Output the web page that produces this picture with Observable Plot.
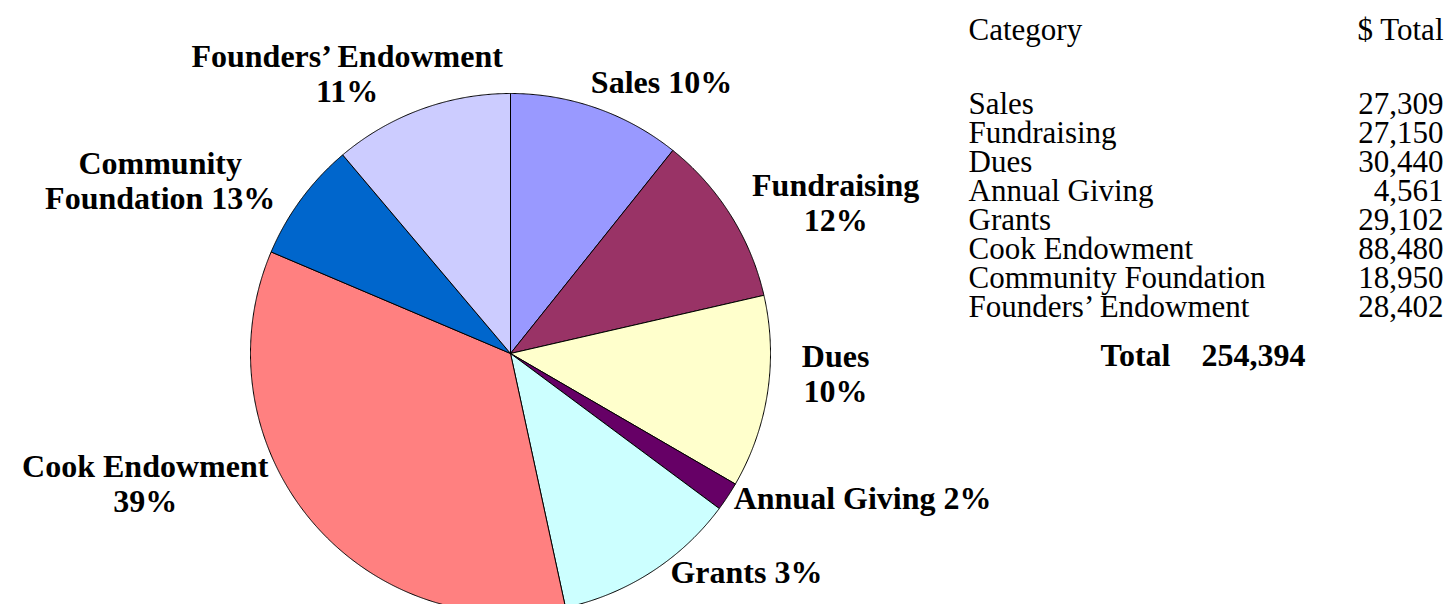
<!DOCTYPE html>
<html>
<head>
<meta charset="utf-8">
<script src="https://cdn.jsdelivr.net/npm/d3@7"></script>
<script src="https://cdn.jsdelivr.net/npm/@observablehq/plot@0.6"></script>
<style>
  html, body { margin: 0; padding: 0; background: #ffffff; }
  #chart svg { display: block; }
</style>
</head>
<body>
<div id="chart"></div>
<script>
// ---------- data ----------
const categories = ["Sales", "Fundraising", "Dues", "Annual Giving", "Grants", "Cook Endowment", "Community Foundation", "Founders’ Endowment"];
const totals = [27309, 27150, 30440, 4561, 29102, 88480, 18950, 28402];
const pieLabels = [
  ["Sales 10%"],
  ["Fundraising", "12%"],
  ["Dues", "10%"],
  ["Annual Giving 2%"],
  ["Grants 3%"],
  ["Cook Endowment", "39%"],
  ["Community", "Foundation 13%"],
  ["Founders’ Endowment", "11%"]
];
const sliceColors = ["#9999FF", "#993366", "#FFFFCC", "#660066", "#CCFFFF", "#FF8080", "#0066CC", "#CCCCFF"];
const tableHeaders = ["Category", "$ Total"];
const totalLabel = "Total";

// ---------- layout ----------
const W = 1450, H = 604;
const CX = 510, CY = 353, R = 260;
const FONT = "'Liberation Serif', 'Times New Roman', Times, serif";
// label offset from the slice's mid-angle rim point
const labelLayout = [
  {dx: 65, dy: -26, anchor: "middle"},
  {dx: 105, dy: -13, anchor: "middle"},
  {dx: 68, dy: -19, anchor: "middle"},
  {dx: 6, dy: 1, anchor: "start"},
  {dx: 19, dy: 0, anchor: "start"},
  {dx: -165, dy: -36, anchor: "middle"},
  {dx: -141, dy: -19, anchor: "middle"},
  {dx: -74, dy: -36, anchor: "middle"}
];
const tableLeft = 968, tableRight = 1443, headerY = 30, firstRowY = 104, rowStep = 29, totalY = 355;

// ---------- geometry from data ----------
const arcs = d3.pie().sort(null).value(d => d)(totals);
const slicePts = [];
arcs.forEach((a, i) => {
  const cat = categories[i];
  slicePts.push({cat, x: CX, y: CY});
  const n = Math.max(4, Math.ceil((a.endAngle - a.startAngle) / (Math.PI / 720)));
  for (let k = 0; k <= n; k++) {
    const t = a.startAngle + (a.endAngle - a.startAngle) * k / n;
    slicePts.push({cat, x: CX + R * Math.sin(t), y: CY - R * Math.cos(t)});
  }
  slicePts.push({cat, x: CX, y: CY});
});

const labelData = arcs.map((a, i) => {
  const m = (a.startAngle + a.endAngle) / 2;
  return {
    text: pieLabels[i].join("\n"),
    x: CX + R * Math.sin(m) + labelLayout[i].dx,
    y: CY - R * Math.cos(m) + labelLayout[i].dy,
    anchor: labelLayout[i].anchor
  };
});

const fmt = d3.format(",");
const grandTotal = d3.sum(totals);

const chart = Plot.plot({
  width: W,
  height: H,
  margin: 0,
  x: {domain: [0, W], range: [0, W], axis: null},
  y: {domain: [0, H], range: [0, H], axis: null},
  color: {type: "ordinal", domain: categories, range: sliceColors},
  style: {background: "#ffffff", color: "#000000", fontFamily: FONT},
  marks: [
    Plot.line(slicePts, {x: "x", y: "y", z: "cat", fill: "cat", stroke: "#000000", strokeWidth: 1, strokeLinejoin: "round", curve: "linear"}),
    Plot.text(labelData.filter(d => d.anchor === "middle"), {x: "x", y: "y", text: "text", textAnchor: "middle", lineAnchor: "middle", lineHeight: 1.1, fontSize: 32, fontWeight: "bold", fill: "#000000"}),
    Plot.text(labelData.filter(d => d.anchor === "start"), {x: "x", y: "y", text: "text", textAnchor: "start", lineAnchor: "middle", lineHeight: 1.1, fontSize: 32, fontWeight: "bold", fill: "#000000"}),
    // table
    Plot.text([tableHeaders[0]], {x: () => tableLeft, y: () => headerY, text: d => d, textAnchor: "start", fontSize: 31, fill: "#000000"}),
    Plot.text([tableHeaders[1]], {x: () => tableRight, y: () => headerY, text: d => d, textAnchor: "end", fontSize: 31, fill: "#000000"}),
    Plot.text(categories, {x: () => tableLeft, y: (d, i) => firstRowY + i * rowStep, text: d => d, textAnchor: "start", fontSize: 31, fill: "#000000"}),
    Plot.text(totals, {x: () => tableRight, y: (d, i) => firstRowY + i * rowStep, text: d => fmt(d), textAnchor: "end", fontSize: 31, fill: "#000000"}),
    Plot.text([totalLabel], {x: () => 1100, y: () => totalY, text: d => d, textAnchor: "start", fontSize: 32, fontWeight: "bold", fill: "#000000"}),
    Plot.text([grandTotal], {x: () => 1305, y: () => totalY, text: d => fmt(d), textAnchor: "end", fontSize: 32, fontWeight: "bold", fill: "#000000"})
  ]
});
document.getElementById("chart").appendChild(chart);
</script>
</body>
</html>
